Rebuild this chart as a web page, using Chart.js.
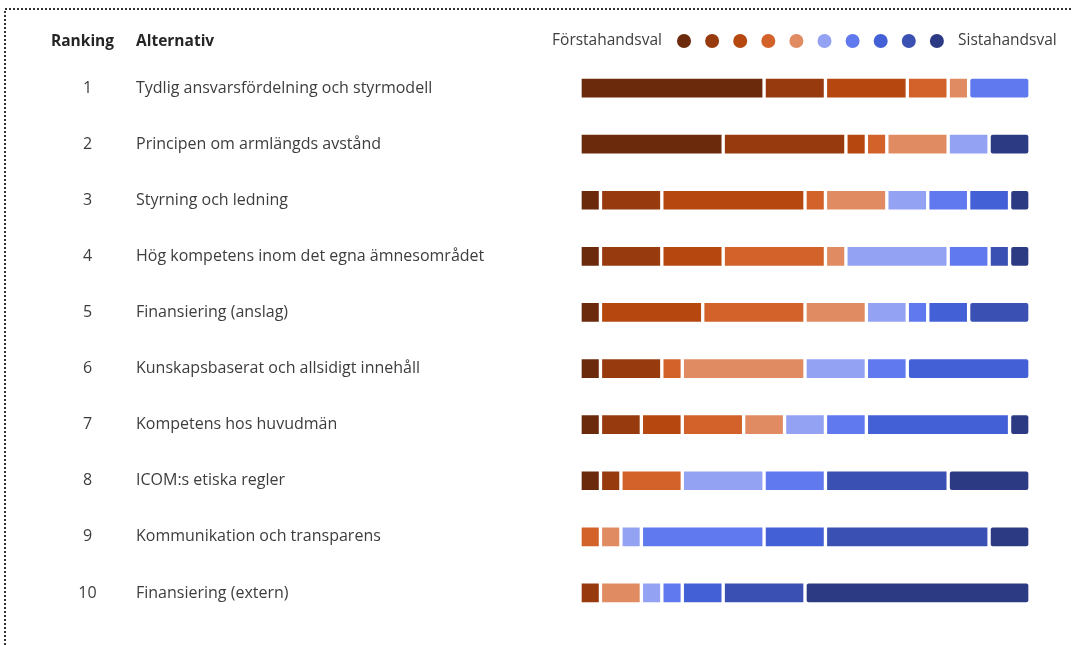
<!DOCTYPE html>
<html><head><meta charset="utf-8">
<script src="https://cdn.jsdelivr.net/npm/chart.js@4.4.1/dist/chart.umd.min.js"></script>
<style>html,body{margin:0;padding:0;background:#fff;overflow:hidden}#wrap{width:1073px;height:645px;position:relative}</style>
</head><body><div id="wrap"><canvas id="c" width="1073" height="645"></canvas></div>
<script>
// ---- data ----
const ranks = ['1','2','3','4','5','6','7','8','9','10'];
const alternatives = [
  'Tydlig ansvarsfördelning och styrmodell',
  'Principen om armlängds avstånd',
  'Styrning och ledning',
  'Hög kompetens inom det egna ämnesområdet',
  'Finansiering (anslag)',
  'Kunskapsbaserat och allsidigt innehåll',
  'Kompetens hos huvudmän',
  'ICOM:s etiska regler',
  'Kommunikation och transparens',
  'Finansiering (extern)'
];
const headerRank = 'Ranking';
const headerAlt = 'Alternativ';
const legendFirst = 'Förstahandsval';
const legendLast = 'Sistahandsval';
const choiceNames = ['Val 1','Val 2','Val 3','Val 4','Val 5','Val 6','Val 7','Val 8','Val 9','Val 10'];
const choice1  = [9,7,1,1,1,1,1,1,0,0];
const choice2  = [3,6,3,3,0,3,2,1,0,1];
const choice3  = [4,1,7,3,5,0,2,0,0,0];
const choice4  = [2,1,1,5,5,1,3,3,1,0];
const choice5  = [1,3,3,1,3,6,2,0,1,2];
const choice6  = [0,2,2,5,2,3,2,4,1,1];
const choice7  = [3,0,2,2,1,2,2,3,6,1];
const choice8  = [0,0,2,0,2,6,7,0,3,2];
const choice9  = [0,0,0,1,3,0,0,6,8,4];
const choice10 = [0,2,1,1,0,0,1,4,2,11];
const totalRespondents = 22;

// ---- styles ----
const colors = ['#6B2A0B','#973B0F','#B5470F','#D2622A','#E08B62','#93A2F2','#6179EE','#4460D6','#3A50B2','#2B3A82'];
const seriesValues = [choice1,choice2,choice3,choice4,choice5,choice6,choice7,choice8,choice9,choice10];
const FONT = '"Open Sans", "Noto Sans", sans-serif';

const datasets = seriesValues.map((vals, i) => ({
  label: choiceNames[i],
  data: vals,
  backgroundColor: colors[i],
  borderColor: '#ffffff',
  borderWidth: 2,
  borderSkipped: false,
  borderRadius: 4,
  barThickness: 22
}));

const textPlugin = {
  id: 'textPlugin',
  afterDraw(chart) {
    const ctx = chart.ctx;
    const y = chart.scales.y;
    ctx.save();
    // dotted frame
    ctx.strokeStyle = '#333';
    ctx.lineWidth = 2;
    ctx.setLineDash([2, 2]);
    ctx.beginPath();
    ctx.moveTo(5, 645); ctx.lineTo(5, 9); ctx.lineTo(1073, 9);
    ctx.stroke();
    ctx.setLineDash([]);

    // headers
    ctx.fillStyle = '#252525';
    ctx.textBaseline = 'middle';
    ctx.font = 'bold 15.5px ' + FONT;
    ctx.textAlign = 'left';
    ctx.fillText(headerRank, 51, 42);
    ctx.fillText(headerAlt, 136, 42);

    // rows
    ctx.font = '16px ' + FONT;
    ctx.fillStyle = '#3d3d3d';
    alternatives.forEach((alt, i) => {
      const py = y.getPixelForValue(i);
      ctx.textAlign = 'center';
      ctx.fillText(ranks[i], 87.5, py);
      ctx.textAlign = 'left';
      ctx.fillText(alt, 136, py);
    });

    // legend
    ctx.font = '15.5px ' + FONT;
    ctx.fillStyle = '#3d3d3d';
    ctx.textAlign = 'right';
    ctx.fillText(legendFirst, 662, 41);
    colors.forEach((c, i) => {
      ctx.beginPath();
      ctx.fillStyle = c;
      ctx.arc(684 + i * 28.1, 41, 7, 0, Math.PI * 2);
      ctx.fill();
    });
    ctx.fillStyle = '#3d3d3d';
    ctx.textAlign = 'left';
    ctx.fillText(legendLast, 958, 41);
    ctx.restore();
  }
};

new Chart(document.getElementById('c'), {
  type: 'bar',
  data: { labels: alternatives, datasets },
  options: {
    indexAxis: 'y',
    responsive: false,
    animation: false,
    devicePixelRatio: 1,
    layout: { padding: { left: 580, right: 43, top: 60, bottom: 24 } },
    plugins: { legend: { display: false }, tooltip: { enabled: false }, title: { display: false } },
    scales: {
      x: { stacked: true, min: 0, max: totalRespondents, display: false },
      y: { stacked: true, display: false }
    }
  },
  plugins: [textPlugin]
});
</script>
</body></html>
